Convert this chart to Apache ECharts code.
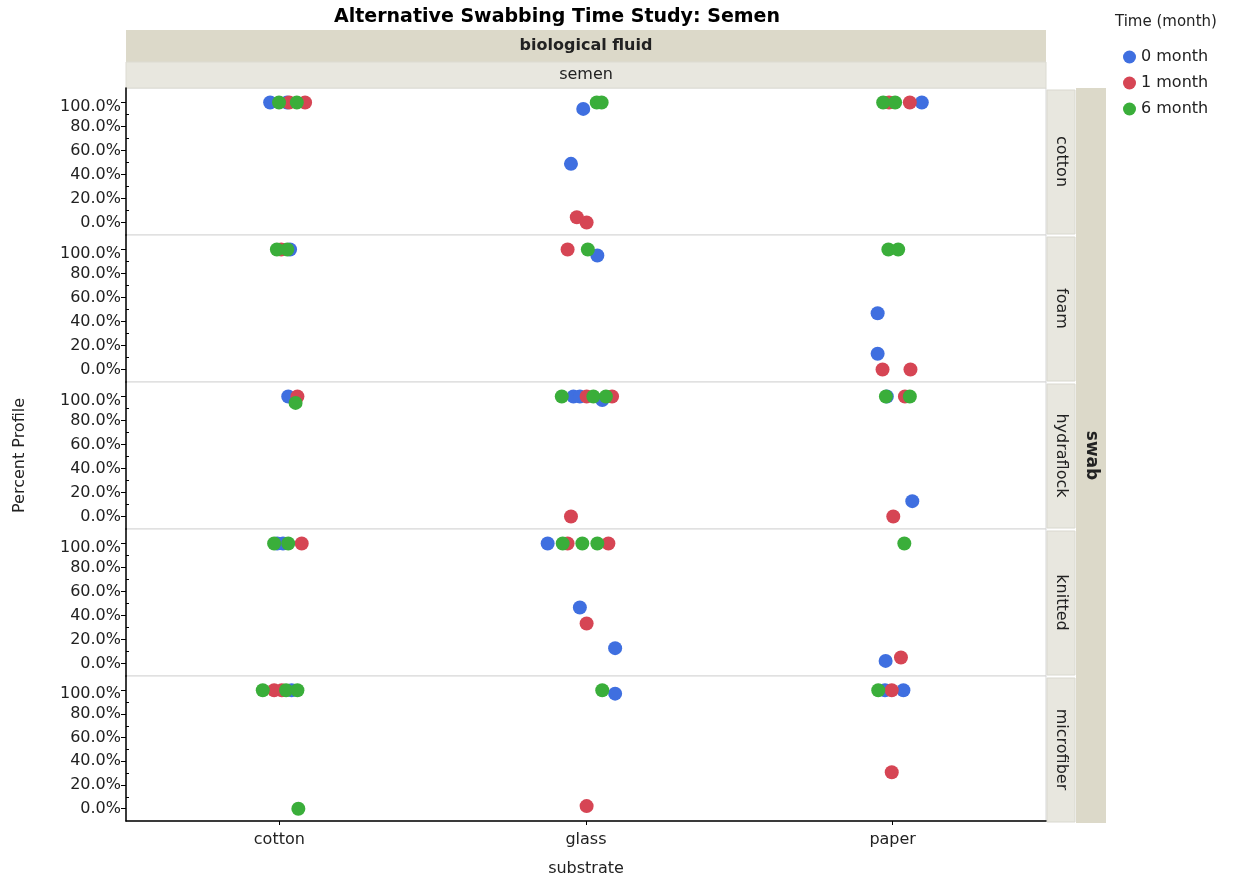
<!DOCTYPE html>
<html>
<head>
<meta charset="utf-8">
<script src="https://cdn.jsdelivr.net/npm/echarts@6/dist/echarts.min.js"></script>
<style>
  html, body { margin: 0; padding: 0; background: #fff; }
  #chart { width: 1237px; height: 878px; }
</style>
</head>
<body>
<div id="chart"></div>
<script>
// facet rows / x categories / legend groups
const swabs = ["cotton", "foam", "hydraflock", "knitted", "microfiber"];
const substrates = ["cotton", "glass", "paper"];
const timeGroups = ["0 month", "1 month", "6 month"];
const yTicks = [0, 20, 40, 60, 80, 100];
const yMinorTicks = [10, 30, 50, 70, 90];

// [swab index, substrate index, jitter (% of band), percent profile]
const month0 = [
  [0, 0, -3.0, 100], [0, 0, 2.5, 100],
  [0, 1, -0.9, 94.7], [0, 1, -4.9, 48.9],
  [0, 2, 9.5, 100],
  [1, 0, 3.5, 100],
  [1, 1, 3.7, 95],
  [1, 2, -4.9, 46.9], [1, 2, -4.9, 13.1],
  [2, 0, 2.9, 100],
  [2, 1, -4.1, 100], [2, 1, -2.0, 100], [2, 1, 5.3, 97],
  [2, 2, -1.9, 100], [2, 2, 6.4, 12.8],
  [3, 0, -0.7, 100], [3, 0, 1.2, 100],
  [3, 1, -12.5, 100], [3, 1, -2.0, 46.7], [3, 1, 9.5, 12.8],
  [3, 2, -2.3, 2.2],
  [4, 0, 4.0, 100],
  [4, 1, 9.5, 97.2],
  [4, 2, -2.5, 100], [4, 2, 3.5, 100]
];
const month1 = [
  [0, 0, 3.2, 100], [0, 0, 8.4, 100],
  [0, 1, -3.0, 4.4], [0, 1, 0.2, 0],
  [0, 2, -1.2, 100], [0, 2, 5.6, 100],
  [1, 0, 0.6, 100],
  [1, 1, -6.0, 100],
  [1, 2, -3.3, 0], [1, 2, 5.8, 0],
  [2, 0, 5.9, 100],
  [2, 1, 0.2, 100], [2, 1, 8.5, 100], [2, 1, -4.9, 0],
  [2, 2, 4.0, 100], [2, 2, 0.2, 0],
  [3, 0, 7.3, 100],
  [3, 1, -6.0, 100], [3, 1, 7.3, 100], [3, 1, 0.2, 33.3],
  [3, 2, 2.7, 5],
  [4, 0, -1.7, 100], [4, 0, 0.8, 100],
  [4, 1, 0.2, 2.2],
  [4, 2, -0.3, 100], [4, 2, -0.3, 30.8]
];
const month6 = [
  [0, 0, -0.1, 100], [0, 0, 5.7, 100],
  [0, 1, 3.5, 100], [0, 1, 5.1, 100],
  [0, 2, -3.1, 100], [0, 2, 0.8, 100],
  [1, 0, -0.8, 100], [1, 0, 2.6, 100],
  [1, 1, 0.6, 100],
  [1, 2, -1.4, 100], [1, 2, 1.8, 100],
  [2, 0, 5.3, 94.7],
  [2, 1, -7.9, 100], [2, 1, 2.4, 100], [2, 1, 6.5, 100],
  [2, 2, -2.2, 100], [2, 2, 5.6, 100],
  [3, 0, -1.7, 100], [3, 0, 2.9, 100],
  [3, 1, -7.6, 100], [3, 1, -1.2, 100], [3, 1, 3.7, 100],
  [3, 2, 3.8, 100],
  [4, 0, -5.4, 100], [4, 0, 2.2, 100], [4, 0, 5.9, 100], [4, 0, 6.2, 0],
  [4, 1, 5.3, 100],
  [4, 2, -4.7, 100]
];
const timeData = [month0, month1, month6];
const timeColors = ["#3f6fe0", "#d64554", "#3aae3a"];

const FONT = "DejaVu Sans";
const plotLeft = 126, plotRight = 1046, plotTop = 88, panelH = 147;
const stripW = 30;

var myChart = echarts.init(document.getElementById("chart"));

const grids = [], xAxes = [], yAxes = [], series = [];
swabs.forEach((s, i) => {
  const last = i === swabs.length - 1;
  grids.push({
    left: plotLeft, right: 1237 - plotRight, top: plotTop + panelH * i, height: panelH,
    show: true, backgroundColor: "#fff", borderColor: "#d6d6d6", borderWidth: 1
  });
  xAxes.push({
    type: "value", gridIndex: i, min: 0, max: 3, show: last,
    splitLine: { show: false },
    axisLine: { show: true, onZero: false, lineStyle: { color: "#000", width: 1.5 } },
    axisTick: { show: true, length: 4, customValues: [0.5, 1.5, 2.5], lineStyle: { color: "#000" } },
    axisLabel: {
      customValues: [0.5, 1.5, 2.5], margin: 11,
      formatter: v => substrates[Math.floor(v)],
      fontFamily: FONT, fontSize: 16, color: "#222"
    },
    name: last ? "substrate" : "", nameLocation: "middle", nameGap: 40,
    nameTextStyle: { fontFamily: FONT, fontSize: 16, color: "#222" }
  });
  // major axis with labels
  yAxes.push({
    type: "value", gridIndex: i, min: -10.4, max: 112.1,
    splitLine: { show: false },
    axisLine: { show: true, onZero: false, lineStyle: { color: "#000", width: 1.5 } },
    axisTick: { show: true, length: 5, customValues: yTicks, lineStyle: { color: "#000" } },
    axisLabel: {
      customValues: yTicks, margin: 5,
      formatter: v => v === 100 ? "{a|100.0%}" : v.toFixed(1) + "%",
      fontFamily: FONT, fontSize: 16, color: "#222",
      rich: { a: { fontFamily: FONT, fontSize: 16, color: "#222", padding: [8, 0, 0, 0] } }
    }
  });
  // minor ticks
  yAxes.push({
    type: "value", gridIndex: i, min: -10.4, max: 112.1,
    splitLine: { show: false },
    axisLine: { show: false },
    axisTick: { show: true, length: 3, customValues: yMinorTicks, lineStyle: { color: "#000" } },
    axisLabel: { show: false }
  });
});

timeGroups.forEach((name, t) => {
  swabs.forEach((s, i) => {
    series.push({
      name: name, type: "scatter", xAxisIndex: i, yAxisIndex: i * 2,
      symbolSize: 14,
      itemStyle: { color: timeColors[t], opacity: 1 },
      data: timeData[t].filter(d => d[0] === i).map(d => [d[1] + 0.5 + d[2] / 100, d[3]])
    });
  });
});

// facet strips
const graphics = [
  { type: "rect", shape: { x: plotLeft, y: 30, width: plotRight - plotLeft, height: 32 }, style: { fill: "#dcd9c9" } },
  { type: "text", x: (plotLeft + plotRight) / 2, y: 46, style: { text: "biological fluid", font: "bold 16px " + FONT, fill: "#222", align: "center", verticalAlign: "middle" } },
  { type: "rect", shape: { x: plotLeft, y: 62, width: plotRight - plotLeft, height: 26 }, style: { fill: "#e8e7df", stroke: "#dcdbd2", lineWidth: 1 } },
  { type: "text", x: (plotLeft + plotRight) / 2, y: 75, style: { text: "semen", font: "16px " + FONT, fill: "#222", align: "center", verticalAlign: "middle" } },
  { type: "rect", shape: { x: plotRight + stripW, y: plotTop, width: stripW, height: panelH * swabs.length }, style: { fill: "#dcd9c9" } },
  { type: "text", x: plotRight + stripW * 1.5, y: plotTop + panelH * swabs.length / 2, rotation: -Math.PI / 2,
    style: { text: "swab", font: "bold 17px " + FONT, fill: "#222", align: "center", verticalAlign: "middle" } },
  { type: "text", x: 20, y: plotTop + panelH * swabs.length / 2, rotation: Math.PI / 2,
    style: { text: "Percent Profile", font: "16px " + FONT, fill: "#222", align: "center", verticalAlign: "middle" } },
  { type: "text", x: 557, y: 17, style: { text: "Alternative Swabbing Time Study: Semen", font: "bold 19px " + FONT, fill: "#000", align: "center", verticalAlign: "middle" } },
  { type: "text", x: 1115, y: 22, style: { text: "Time (month)", font: "15px " + FONT, fill: "#222", align: "left", verticalAlign: "middle" } }
];
swabs.forEach((s, i) => {
  const y0 = plotTop + panelH * i;
  graphics.push({ type: "rect", shape: { x: plotRight + 1, y: y0 + 2, width: stripW - 2, height: panelH - 3 }, style: { fill: "#e8e7df", stroke: "#d9d8cf", lineWidth: 1 } });
  graphics.push({ type: "text", x: plotRight + stripW / 2, y: y0 + panelH / 2, rotation: -Math.PI / 2,
    style: { text: s, font: "16px " + FONT, fill: "#222", align: "center", verticalAlign: "middle" } });
});

var option = {
  animation: false,
  backgroundColor: "#fff",
  legend: {
    data: timeGroups, orient: "vertical", left: 1118, top: 44,
    icon: "circle", itemWidth: 13, itemHeight: 13, itemGap: 10,
    textStyle: { fontFamily: FONT, fontSize: 16, color: "#222" }
  },
  grid: grids,
  xAxis: xAxes,
  yAxis: yAxes,
  series: series,
  graphic: graphics
};
option && myChart.setOption(option);
</script>
</body>
</html>
